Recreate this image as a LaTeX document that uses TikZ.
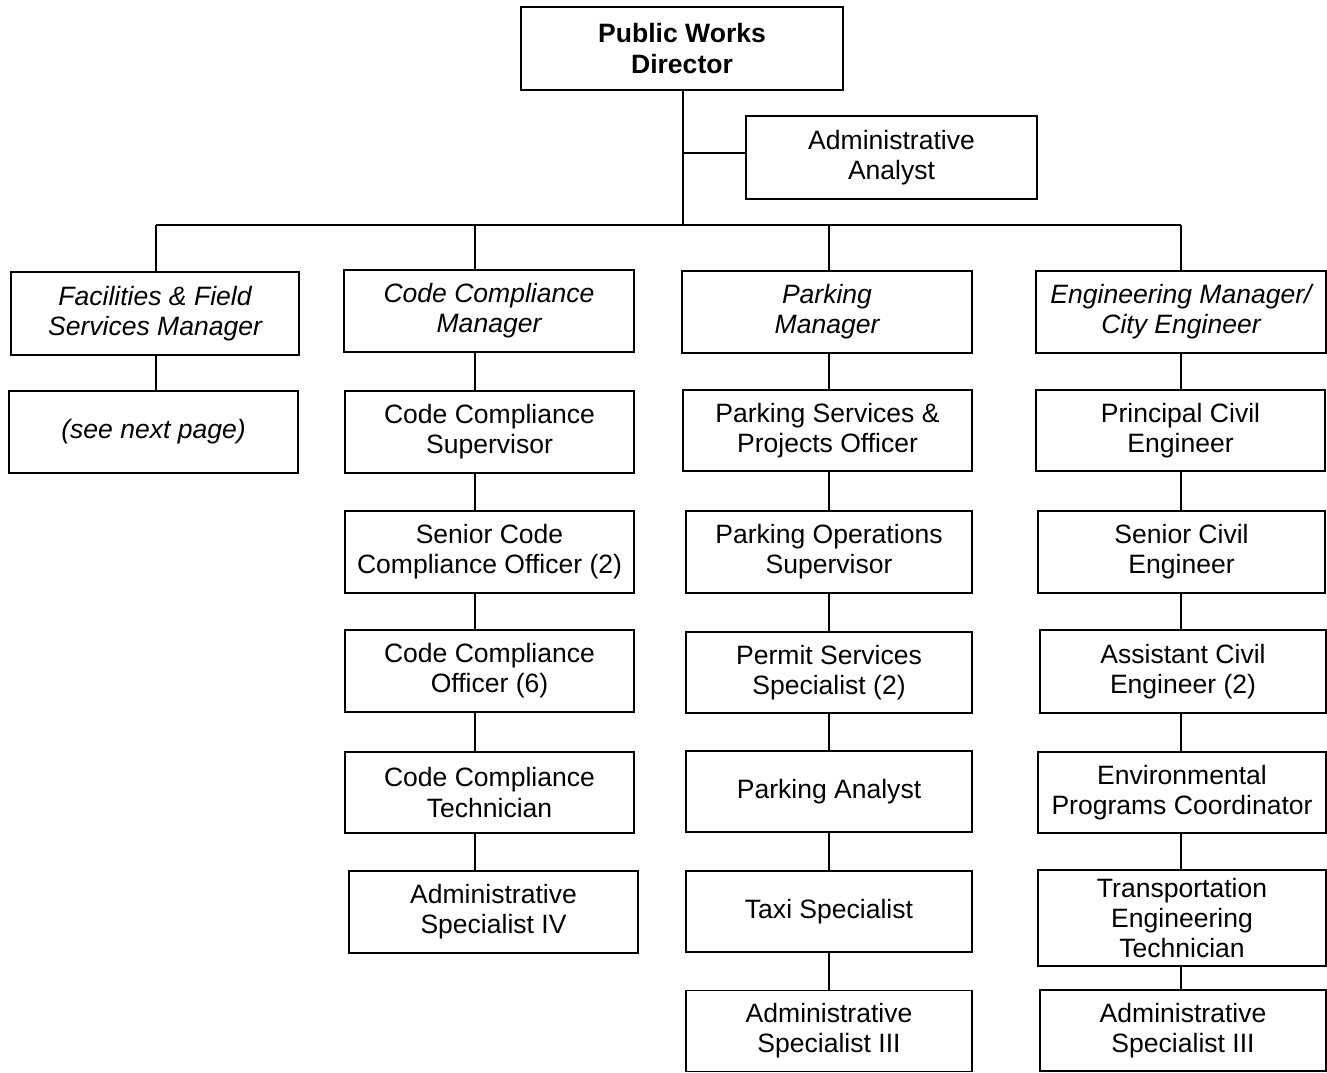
\documentclass[tikz,border=0pt]{standalone}
\usepackage{fontspec}
\setmainfont{Liberation Sans}

\begin{document}
\begin{tikzpicture}[
    font=\fontsize{15.1}{17.2}\selectfont,
    wire/.style={line width=1pt},
    box/.style={draw, line width=1pt, inner sep=0pt, align=center, minimum width=5.78cm, minimum height=1.64cm},
    mgrbox/.style={box, font=\fontsize{15.1}{17.2}\selectfont\itshape},
    topbox/.style={box, font=\fontsize{15.1}{17.2}\selectfont\bfseries}
]
\useasboundingbox (0,0) rectangle (26.54,-21.44);

% Top of the chart
\node[topbox, minimum width=6.44cm, minimum height=1.66cm] (director) at (13.64,-0.97) {Public Works\\Director};
\node[box, minimum width=5.82cm, minimum height=1.66cm] (analyst) at (17.83,-3.15) {Administrative\\Analyst};

% Managers
\node[mgrbox, minimum width=5.76cm, minimum height=1.66cm] (facmgr) at (3.10,-6.27) {Facilities \& Field\\Services Manager};
\node[mgrbox, minimum width=5.80cm] (codemgr) at (9.78,-6.22) {Code Compliance\\Manager};
\node[mgrbox, minimum width=5.80cm] (parkmgr) at (16.54,-6.24) {Parking\\Manager};
\node[mgrbox, minimum width=5.80cm] (engmgr)  at (23.62,-6.24) {Engineering Manager/\\City Engineer};

% Facilities column
\node[mgrbox] (nextpage) at (3.07,-8.64) {(see next page)};

% Code compliance column
\node[box] (codesup)  at (9.79,-8.64)  {Code Compliance\\Supervisor};
\node[box] (codesen)  at (9.79,-11.04) {Senior Code\\Compliance Officer (2)};
\node[box] (codeoff)  at (9.79,-13.42) {Code Compliance\\Officer (6)};
\node[box, minimum height=1.62cm] (codetech) at (9.79,-15.85) {Code Compliance\\Technician};
\node[box] (codeadm)  at (9.87,-18.24) {Administrative\\Specialist IV};

% Parking column
\node[box, minimum height=1.62cm] (parksvc)  at (16.55,-8.61)  {Parking Services \&\\Projects Officer};
\node[box, minimum width=5.72cm] (parkops)  at (16.58,-11.04) {Parking Operations\\Supervisor};
\node[box, minimum width=5.72cm, minimum height=1.62cm] (parkperm) at (16.58,-13.45) {Permit Services\\Specialist (2)};
\node[box, minimum width=5.72cm, minimum height=1.62cm] (parkanl)  at (16.58,-15.83) {Parking Analyst};
\node[box, minimum width=5.72cm, minimum height=1.62cm] (parktaxi) at (16.58,-18.23) {Taxi Specialist};
\node[box, minimum width=5.72cm, minimum height=1.62cm] (parkadm)  at (16.58,-20.62) {Administrative\\Specialist III};

% Engineering column
\node[box, minimum height=1.62cm] (engprin) at (23.61,-8.61)  {Principal Civil\\Engineer};
\node[box, minimum width=5.74cm] (engsen)  at (23.63,-11.04) {Senior Civil\\Engineer};
\node[box, minimum width=5.72cm, minimum height=1.66cm] (engasst) at (23.66,-13.43) {Assistant Civil\\Engineer (2)};
\node[box, minimum width=5.76cm, minimum height=1.62cm] (engenv)  at (23.64,-15.85) {Environmental\\Programs Coordinator};
\node[box, minimum width=5.76cm, minimum height=1.92cm] (engtrans) at (23.64,-18.36) {Transportation\\Engineering\\Technician};
\node[box, minimum width=5.72cm, minimum height=1.62cm] (engadm)  at (23.66,-20.61) {Administrative\\Specialist III};

% Bus under the director
\coordinate (busA) at (3.12,-4.50);
\coordinate (busB) at (9.50,-4.50);
\coordinate (busC) at (16.58,-4.50);
\coordinate (busD) at (23.62,-4.50);
\coordinate (busmid) at (13.66,-4.50);
\coordinate (branch) at (13.66,-3.06);
\draw[wire] (director.south -| busmid) -- (busmid);
\draw[wire] (branch) -- (branch -| analyst.west);
\draw[wire] (busA) -- (busD);

% Drops to the managers
\draw[wire] (busA) -- (busA |- facmgr.north);
\draw[wire] (busB) -- (busB |- codemgr.north);
\draw[wire] (busC) -- (busC |- parkmgr.north);
\draw[wire] (busD) -- (busD |- engmgr.north);

% Facilities column
\draw[wire] (busA |- facmgr.south) -- (busA |- nextpage.north);

% Code compliance column
\draw[wire] (busB |- codemgr.south) -- (busB |- codesup.north);
\draw[wire] (busB |- codesup.south) -- (busB |- codesen.north);
\draw[wire] (busB |- codesen.south) -- (busB |- codeoff.north);
\draw[wire] (busB |- codeoff.south) -- (busB |- codetech.north);
\draw[wire] (busB |- codetech.south) -- (busB |- codeadm.north);

% Parking column
\draw[wire] (busC |- parkmgr.south) -- (busC |- parksvc.north);
\draw[wire] (busC |- parksvc.south) -- (busC |- parkops.north);
\draw[wire] (busC |- parkops.south) -- (busC |- parkperm.north);
\draw[wire] (busC |- parkperm.south) -- (busC |- parkanl.north);
\draw[wire] (busC |- parkanl.south) -- (busC |- parktaxi.north);
\draw[wire] (busC |- parktaxi.south) -- (busC |- parkadm.north);

% Engineering column
\draw[wire] (busD |- engmgr.south) -- (busD |- engprin.north);
\draw[wire] (busD |- engprin.south) -- (busD |- engsen.north);
\draw[wire] (busD |- engsen.south) -- (busD |- engasst.north);
\draw[wire] (busD |- engasst.south) -- (busD |- engenv.north);
\draw[wire] (busD |- engenv.south) -- (busD |- engtrans.north);
\draw[wire] (busD |- engtrans.south) -- (busD |- engadm.north);

\end{tikzpicture}
\end{document}
